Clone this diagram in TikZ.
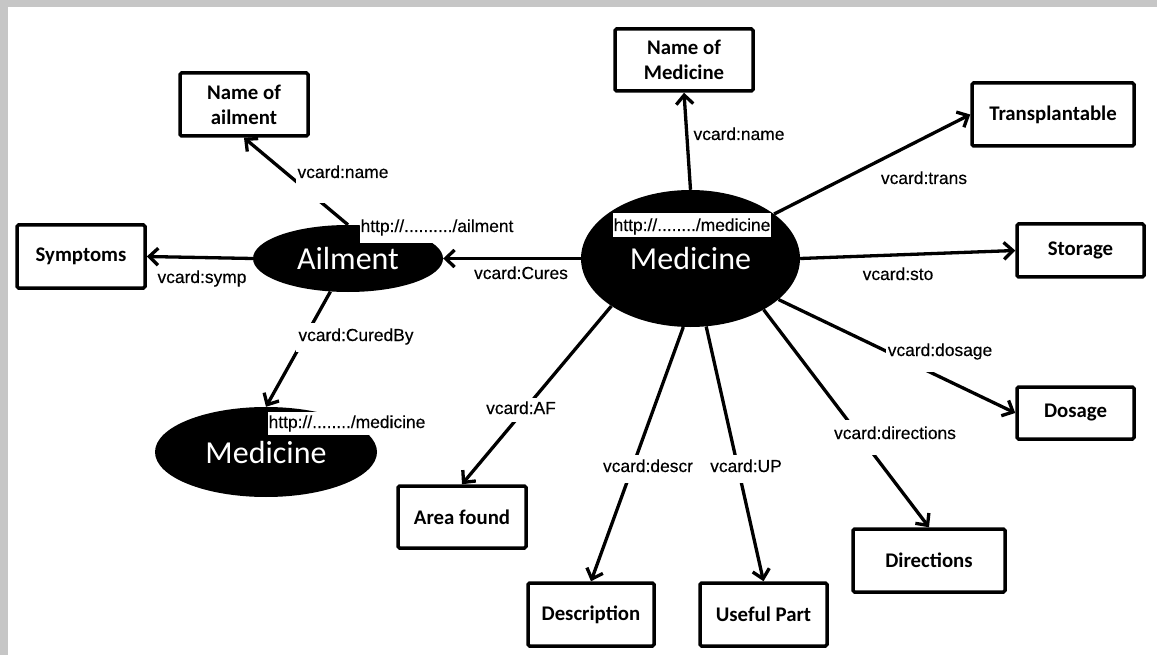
\documentclass[tikz,border=0pt]{standalone}
\usepackage{fontspec}
\newfontfamily\boxf{Carlito}
\newfontfamily\labf[FakeBold=0.3]{Liberation Sans}
\usetikzlibrary{shapes.geometric,arrows.meta}
\begin{document}
\begin{tikzpicture}[x=1pt,y=-1pt,
  box/.style={draw,line width=3.5pt,rounded corners=1.5pt,fill=white,align=center,
    font=\boxf\bfseries\fontsize{20.8}{25}\selectfont,inner sep=0pt},
  ell/.style={ellipse,fill=black,text=white,inner sep=0pt,font=\boxf\fontsize{32}{36}\selectfont},
  lbl/.style={fill=white,font=\labf\fontsize{17.4}{20}\selectfont,inner xsep=2pt,inner ysep=0pt,
    anchor=base,text height=15pt,text depth=5pt},
  arr/.style={line width=3.3pt,-{Straight Barb[length=9pt,width=17pt]}}]
\useasboundingbox (0,0) rectangle (1157,655);
\fill[gray!45] (0,0) rectangle (1157,655);
\fill[white] (8,7) rectangle (1157,655);
% boxes
\node[box,minimum width=128pt,minimum height=63pt] (noa) at (244,104.5) {Name of\\ailment};
\node[box,minimum width=138pt,minimum height=62pt] (nom) at (684,60) {Name of\\Medicine};
\node[box,minimum width=162pt,minimum height=63pt] (tra) at (1053,114.5) {Transplantable};
\node[box,minimum width=128pt,minimum height=63pt] (sym) at (81,256.5) {Symptoms};
\node[box,minimum width=127pt,minimum height=53pt] (sto) at (1080.5,250.5) {Storage};
\node[box,minimum width=117pt,minimum height=52pt] (dos) at (1075.5,413) {Dosage};
\node[box,minimum width=128pt,minimum height=62pt] (af) at (462,517) {Area found};
\node[box,minimum width=152pt,minimum height=63pt] (dir) at (929,560.5) {Directions};
\node[box,minimum width=126pt,minimum height=63pt] (des) at (591,614.5) {Description};
\node[box,minimum width=127pt,minimum height=63pt] (up) at (763.5,614.5) {Useful Part};
% ellipses
\node[ell,minimum width=219pt,minimum height=137pt] (med) at (690.5,258.5) {Medicine};
\node[ell,minimum width=190pt,minimum height=67pt] (ail) at (348,258.5) {Ailment};
\node[ell,minimum width=222pt,minimum height=90pt] (med2) at (266,452) {Medicine};
% edges
\draw[arr] (ail.north) -- (noa.south);
\draw[arr] (ail.west) -- (sym.east);
\draw[arr] (med.west) -- (ail.east);
\draw[arr] (ail.242) -- (med2.north);
\draw[arr] (med.north) -- (nom.south);
\draw[arr] (med.28) -- (tra.west);
\draw[arr] (med.east) -- (sto.west);
\draw[arr] (med.335) -- (dos.west);
\draw[arr] (med.325) -- (dir.north);
\draw[arr] (med.283) -- (up.north);
\draw[arr] (med.264) -- (des.north);
\draw[arr] (med.211) -- (af.north);
% labels
\node[lbl,text depth=25pt] (l1) at (343,178) {vcard:name};
\node[lbl] (l2) at (202,283) {vcard:symp};
\node[lbl] (l3) at (521,279) {vcard:Cures};
\node[lbl,text height=18pt,text depth=11pt] (l4) at (356,341) {vcard:CuredBy};
\node[lbl] (l5) at (739,140) {vcard:name};
\node[lbl] (l6) at (924,184) {vcard:trans};
\node[lbl] (l7) at (898,280) {vcard:sto};
\node[lbl,text height=16pt,text depth=16pt] (l8) at (940,356) {vcard:dosage};
\node[lbl,text height=19pt,text depth=16pt] (l9) at (895,439) {vcard:directions};
\node[lbl,text height=16pt,text depth=8pt] (l10) at (521,414) {vcard:AF};
\node[lbl,text height=17pt,text depth=11pt] (l11) at (648,472) {vcard:descr};
\node[lbl,text height=17pt,text depth=11pt] (l12) at (746,472) {vcard:UP};
% http labels
\node[lbl,text height=17pt,text depth=11pt,inner xsep=1pt] (h1) at (437,232) {http://........../ailment};
\node[lbl,text height=18pt,text depth=6pt,inner xsep=1pt] (h2) at (692,231) {http://......../medicine};
\node[lbl,text height=16pt,text depth=7pt,inner xsep=1pt] (h3) at (347,428) {http://......../medicine};
\end{tikzpicture}
\end{document}
